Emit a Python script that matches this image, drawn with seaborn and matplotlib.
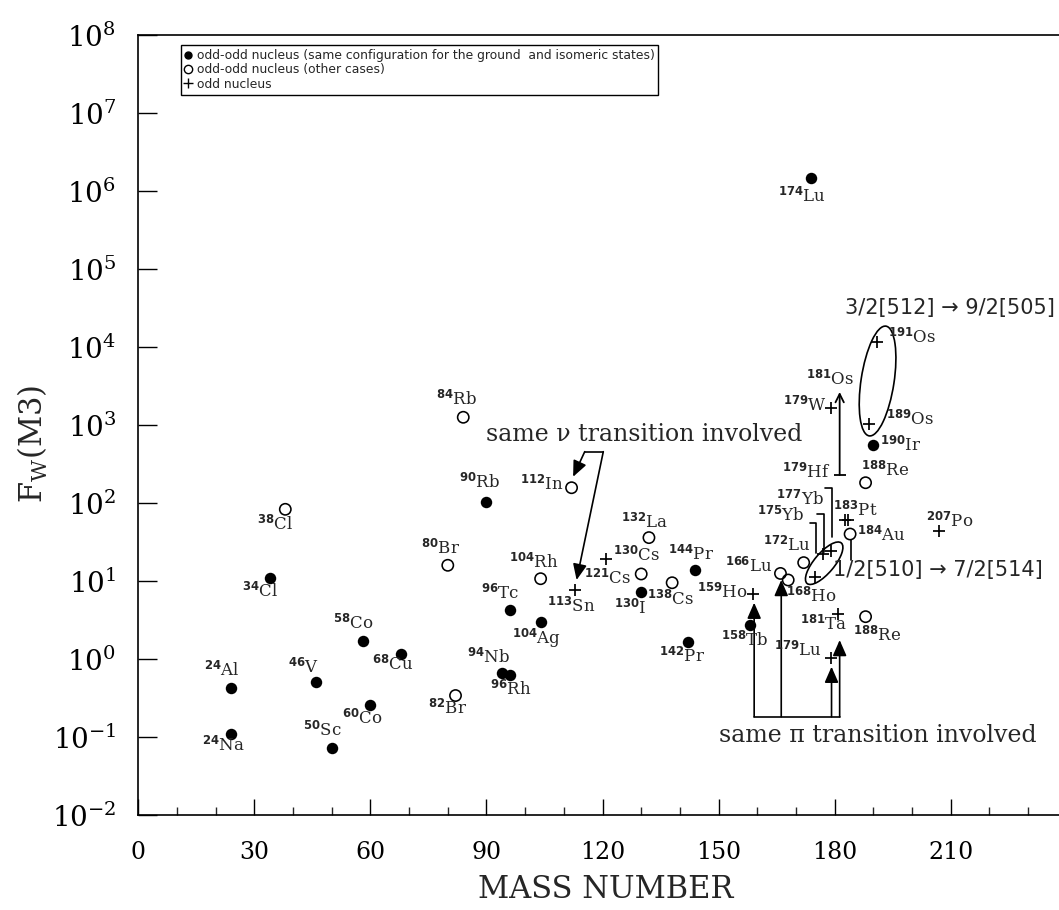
import re
import numpy as np
import pandas as pd
import matplotlib
matplotlib.use("Agg")
import matplotlib.pyplot as plt
import matplotlib.transforms as mtransforms
from matplotlib.lines import Line2D
from matplotlib.patches import Ellipse
from matplotlib.ticker import FixedLocator, MultipleLocator, NullLocator, FuncFormatter
import seaborn as sns

# ---------------- data ----------------
filled_names = ['24Al', '24Na', '34Cl', '46V', '50Sc', '58Co', '60Co', '68Cu', '90Rb', '94Nb',
                '96Rh', '96Tc', '104Ag', '130I', '142Pr', '144Pr', '158Tb', '174Lu', '190Ir']
filled_A = [24, 24, 34, 46, 50, 58, 60, 68, 90, 94, 96, 96, 104, 130, 142, 144, 158, 174, 190]
filled_F = [0.42, 0.11, 11, 0.51, 0.072, 1.72, 0.255, 1.15, 104, 0.66, 0.62, 4.2, 2.95, 7.2,
            1.67, 13.8, 2.73, 1.45e6, 554]

open_names = ['38Cl', '80Br', '82Br', '84Rb', '104Rh', '112In', '130Cs', '132La', '138Cs',
              '166Lu', '168Ho', '172Lu', '184Au', '188Re', '188Re']
open_A = [38, 80, 82, 84, 104, 112, 130, 132, 138, 166, 168, 172, 184, 188, 188]
open_F = [83, 15.9, 0.34, 1256, 10.7, 157, 12.3, 36, 9.5, 12.5, 10.3, 17.2, 40, 182, 3.49]

plus_names = ['113Sn', '121Cs', '159Ho', '175Yb', '177Yb', '179Hf', '179W', '179Lu', '181Ta',
              '183Pt', '', '189Os', '191Os', '207Po']
plus_A = [113, 121, 159, 175, 177, 179, 179, 179, 181, 182.6, 183.4, 189, 191, 207]
plus_F = [7.7, 19, 6.76, 11.4, 22, 24.3, 1637, 1.02, 3.77, 60.5, 60.5, 1030, 11600, 43.8]

# 181Os lower limit (arrow)
os181_A = 181.3
os181_F = [229, 2650]

legend_labels = ['odd-odd nucleus (same configuration for the ground  and isomeric states)',
                 'odd-odd nucleus (other cases)',
                 'odd nucleus']
x_ticks = [0, 30, 60, 90, 120, 150, 180, 210]
y_exponents = [-2, -1, 0, 1, 2, 3, 4, 5, 6, 7, 8]

# label offsets in pixels (dx, dy; y up) -- layout only
filled_off = [(-9.5, 18), (-7.4, -11.7), (-10, -13.6), (-13, 14.7), (-9, 18.3), (-9, 17),
              (-8.3, -13.4), (-8.3, -10), (-6.6, 19.7), (-13.4, 16), (1, -14.3), (-9.3, 17.3),
              (-4.3, -16), (-11, -16.3), (-5.4, -15), (-4.3, 15.3), (-5, -15.3), (-9, -17.4),
              (27.7, 0)]
open_off = [(-10, -15.4), (-7.6, 17), (-8.4, -13), (-6.7, 18.3), (-7, 16.4), (-30, 3.7),
            (-4.3, 18.3), (-4, 15.6), (-2, -16.5), (-32, 7.6), (23.3, -16.3), (-17, 17),
            (31.3, -1.3), (19.4, 12), (11.6, -19)]
plus_off = [(-4, -16.3), (1, -19.4), (-30.6, 2.3), (-34.7, 61.4), (-23, 55.3), (-24.4, 78.7),
            (-25.7, 2.6), (-32.7, 7.6), (-14.7, -10.3), (11, 9.3), (0, 0), (41, 4.3),
            (35.3, 4.3), (10.7, 9.7)]

# ---------------- style ----------------
sns.set_theme(style="white")
plt.rcParams['font.family'] = ['DejaVu Serif', 'DejaVu Sans']
plt.rcParams['mathtext.fontset'] = 'custom'
plt.rcParams['mathtext.rm'] = 'DejaVu Serif'
plt.rcParams['mathtext.it'] = 'DejaVu Serif:italic'
plt.rcParams['mathtext.bf'] = 'DejaVu Sans:bold'

W, H = 1059, 910
fig = plt.figure(figsize=(W / 100, H / 100), dpi=100)
ax = fig.add_axes([138.3 / W, 95 / H, (W - 138.3) / W, 780 / H])

df_f = pd.DataFrame({'A': filled_A, 'F': filled_F})
df_o = pd.DataFrame({'A': open_A, 'F': open_F})
df_p = pd.DataFrame({'A': plus_A, 'F': plus_F})

sns.scatterplot(data=df_f, x='A', y='F', ax=ax, marker='o', s=68, color='black',
                linewidth=0, zorder=4, legend=False)
sns.scatterplot(data=df_o, x='A', y='F', ax=ax, marker='o', s=66, color='black',
                linewidth=1.15, zorder=4, legend=False)
ax.collections[-1].set_facecolor('none')
ax.collections[-1].set_edgecolor('black')
sns.scatterplot(data=df_p, x='A', y='F', ax=ax, marker='+', s=78, color='black',
                linewidth=1.25, zorder=4, legend=False)
ax.collections[-1].set_edgecolor('black')
ax.collections[-1].set_linewidth(1.25)

ax.set_yscale('log')
ax.set_xlim(0, 238)
ax.set_ylim(1e-2, 1e8)


def nuc_label(name):
    m = re.match(r'(\d+)(\D+)', name)
    return r'$^{\mathbf{%s}}$%s' % (m.group(1), m.group(2))


for names, As, Fs, offs in [(filled_names, filled_A, filled_F, filled_off),
                            (open_names, open_A, open_F, open_off),
                            (plus_names, plus_A, plus_F, plus_off)]:
    for n, a, f, (dx, dy) in zip(names, As, Fs, offs):
        if not n:
            continue
        ax.annotate(nuc_label(n), xy=(a, f), xytext=(dx, dy), textcoords='offset pixels',
                    ha='center', va='center', fontsize=12, zorder=5)

# 181Os lower-limit arrow
ax.annotate('', xy=(os181_A, os181_F[1]), xytext=(os181_A, os181_F[0]),
            arrowprops=dict(arrowstyle='->,head_length=0.5,head_width=0.25', color='black',
                            lw=1.3, shrinkA=0, shrinkB=0, mutation_scale=12))
ax.plot([os181_A], [os181_F[0]], marker='_', color='black', markersize=8, mew=1.3)
ax.annotate(nuc_label('181Os'), xy=(os181_A, os181_F[1]), xytext=(-9.3, 12.7),
            textcoords='offset pixels', ha='center', va='center', fontsize=12)

# short line below 184Au
ax.plot([184.2, 184.2], [33.6, 18.6], color='black', lw=1.2)

# brackets from 175Yb, 177Yb, 179Hf labels
for xs, ys in [([173.6, 175.3, 175.3], [55, 55, 22.9]),
               ([175.5, 177.2, 177.2], [71.6, 71.6, 23.8]),
               ([177.4, 179.3, 179.3], [157, 157, 37])]:
    ax.plot(xs, ys, color='black', lw=1.2)

# "same nu transition involved"
ax.text(130.8, 745, 'same ν transition involved', ha='center', va='center', fontsize=17)
ax.plot([115.4, 120.2], [455, 455], color='black', lw=1.2)
hp = dict(arrowstyle='-|>,head_length=0.8,head_width=0.35', color='black', lw=1.2,
          shrinkA=0, shrinkB=0, mutation_scale=12)
ax.annotate('', xy=(112.4, 217), xytext=(115.4, 455), arrowprops=hp)
ax.annotate('', xy=(113.3, 10.3), xytext=(120.2, 455), arrowprops=hp)

# "same pi transition involved"
ax.text(191.1, 0.106, 'same π transition involved', ha='center', va='center', fontsize=17)
ybase = 0.182
ax.plot([159.2, 181.3], [ybase, ybase], color='black', lw=1.2)
for xa, tip in [(159.2, 5.27), (166.2, 10.3), (179.2, 0.796), (181.3, 1.75)]:
    ax.annotate('', xy=(xa, tip), xytext=(xa, ybase), arrowprops=hp)

# ellipses (sizes in pixels)
def pix_ellipse(a, f, w, h, ang):
    tr = mtransforms.ScaledTranslation(a, f, ax.transData)
    e = Ellipse((0, 0), w, h, angle=ang, transform=tr, fill=False, edgecolor='black', lw=1.2)
    ax.add_patch(e)

pix_ellipse(191.1, 3664, 111, 33, 81.3)
pix_ellipse(177.3, 16.9, 53, 20, 49.8)

ax.text(209.7, 31600, '3/2[512] → 9/2[505]', ha='center', va='center', fontsize=15,
        family=['DejaVu Sans'])
ax.text(206.6, 13.8, '1/2[510] → 7/2[514]', ha='center', va='center', fontsize=15,
        family=['DejaVu Sans'])

# ---------------- axes ----------------
ax.xaxis.set_major_locator(FixedLocator(x_ticks))
ax.xaxis.set_minor_locator(MultipleLocator(10))
ax.yaxis.set_major_locator(FixedLocator([10.0 ** e for e in y_exponents]))
ax.yaxis.set_minor_locator(NullLocator())
ax.yaxis.set_major_formatter(FuncFormatter(lambda v, p: r'$\mathrm{10^{%d}}$' % round(np.log10(v))))

ax.tick_params(axis='x', which='major', direction='in', length=11.5, width=1.0, pad=19,
               labelsize=17, colors='black')
ax.tick_params(axis='x', which='minor', direction='in', length=5.8, width=1.0)
ax.tick_params(axis='y', which='major', direction='in', length=13.7, width=1.0, pad=16,
               labelsize=20, colors='black')
ax.tick_params(axis='both', which='both', bottom=True, left=True, top=False, right=False)

for sp in ['left', 'bottom', 'top']:
    ax.spines[sp].set_color('black')
    ax.spines[sp].set_linewidth(1.2)
ax.spines['right'].set_visible(False)

ax.set_xlabel('MASS NUMBER', fontsize=22)
ax.xaxis.label.set_va('center')
ax.xaxis.set_label_coords(0.508, -0.096)
ax.set_ylabel(r'F$_{\mathrm{W}}$(M3)', fontsize=22)
ax.yaxis.label.set_va('center')
ax.yaxis.set_label_coords(-0.114, 0.476)

handles = [Line2D([], [], marker='o', color='black', linestyle='none', markersize=5),
           Line2D([], [], marker='o', color='black', mfc='none', linestyle='none',
                  markersize=6, mew=1),
           Line2D([], [], marker='+', color='black', linestyle='none', markersize=7, mew=1)]
leg = ax.legend(handles, legend_labels, loc='upper left', bbox_to_anchor=(0.046, 0.987),
                frameon=True, fancybox=False, edgecolor='black', framealpha=1,
                prop={'family': 'DejaVu Sans', 'size': 8.9}, handlelength=0.6,
                handletextpad=0.4, borderpad=0.3, labelspacing=0.12, borderaxespad=0)
leg.get_frame().set_linewidth(1.0)

fig.savefig('out.png', dpi=100)
